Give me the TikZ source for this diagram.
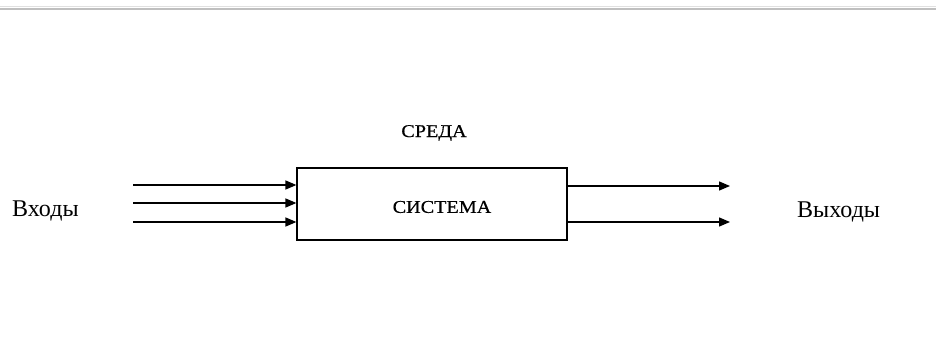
\documentclass[tikz,border=0pt]{standalone}
\usepackage{fontspec}
\setmainfont{Liberation Serif}
\newfontfamily\capsfont[FakeStretch=1.12,FakeBold=0.6]{Liberation Serif}
\usetikzlibrary{arrows.meta}
\begin{document}
\begin{tikzpicture}[x=1pt,y=-1pt,
  flow/.style={line width=1.4pt,-{Triangle[length=11pt,width=9pt]}},
  lbl/.style={inner sep=0pt,font=\fontsize{24}{28}\selectfont},
  captext/.style={inner sep=0pt,font=\capsfont\fontsize{18}{20}\selectfont}]
\useasboundingbox (0,0) rectangle (936,358);
\fill[white] (0,0) rectangle (936,358);
\draw[line width=2pt,color=black!25] (0,9) -- (936,9);
\draw[line width=1pt,color=black!12] (0,7) -- (936,7);
\node[draw,line width=1.2pt,minimum width=270pt,minimum height=72pt,inner sep=0pt] (sys) at (432,204) {};
\node[captext] (systxt) at (442,207) {СИСТЕМА};
\node[captext] (env) at (434,133) {СРЕДА};
\node[lbl,anchor=base west] (in) at (12,216) {Входы};
\node[lbl,anchor=base west] (out) at (797,217) {Выходы};
\coordinate (i1) at (133,185);
\coordinate (i2) at (133,203);
\coordinate (i3) at (133,222);
\coordinate (o1) at (730,186);
\coordinate (o2) at (730,222);
\draw[flow] (i1) -- (i1 -| sys.west);
\draw[flow] (i2) -- (i2 -| sys.west);
\draw[flow] (i3) -- (i3 -| sys.west);
\draw[flow] (o1 -| sys.east) -- (o1);
\draw[flow] (o2 -| sys.east) -- (o2);
\end{tikzpicture}
\end{document}
